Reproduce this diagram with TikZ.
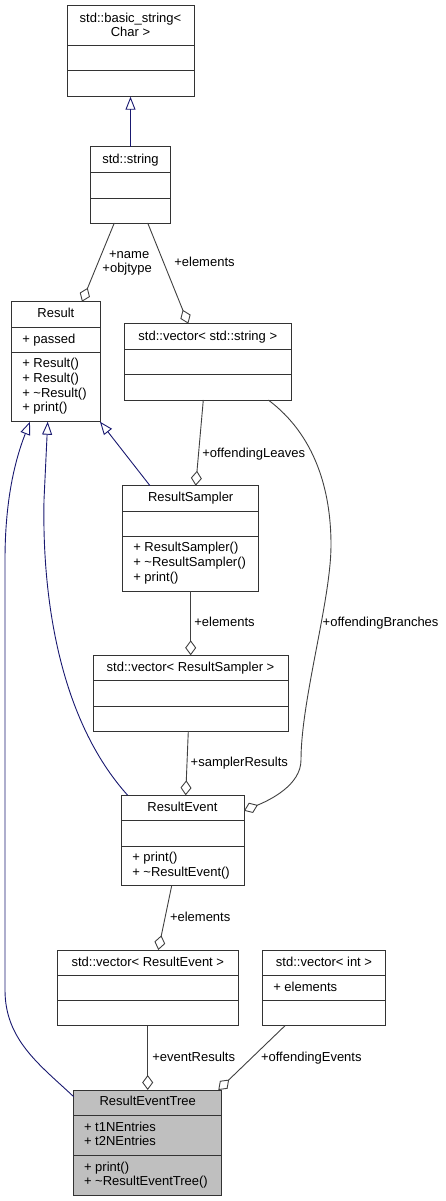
\documentclass[tikz,border=0pt]{standalone}
\usepackage{fontspec}
\setmainfont{Liberation Sans}
\usetikzlibrary{arrows.meta}
\definecolor{edgegray}{HTML}{404040}
\definecolor{inhblue}{HTML}{191970}
\definecolor{treegray}{HTML}{BFBFBF}

\begin{document}
\begin{tikzpicture}[x=1pt,y=-1pt]
            \tikzstyle{every node}+=[inner sep=0pt, outer sep=0pt, font=\fontsize{13}{14.7}\selectfont]
            \tikzstyle{classbox}=[draw=black!80, line width=1pt, anchor=north west]
            \tikzstyle{sep}=[draw=black!80, line width=1pt]
            \tikzstyle{title}=[anchor=base]
            \tikzstyle{member}=[anchor=base west]
            \tikzstyle{role}=[anchor=base west]
            \tikzstyle{agg}=[draw=edgegray, line width=0.9pt, -{Diamond[open,length=15pt,width=11pt]}]
            \tikzstyle{inh}=[draw=inhblue, line width=0.9pt, -{Triangle[open,length=13pt,width=10pt]}]
            \useasboundingbox (0,0) rectangle (445,1201);
            \node [classbox, minimum width=127pt, minimum height=91pt] (bs) at (67,5.7) {};
            \draw [sep] (67,45.7) -- (194,45.7);
            \draw [sep] (67,71) -- (194,71);
            \node [title] at (130.5,22.5) {std::basic\_string<};
            \node [title] at (130.5,36.8) {Char >};
            \node [classbox, minimum width=80.4pt, minimum height=76.3pt] (str) at (90.3,146.7) {};
            \draw [sep] (90.3,172.7) -- (170.7,172.7);
            \draw [sep] (90.3,198.3) -- (170.7,198.3);
            \node [title] at (130.5,163.3) {std::string};
            \node [classbox, minimum width=88.3pt, minimum height=120pt] (res) at (11.7,301.7) {};
            \draw [sep] (11.7,327.3) -- (100,327.3);
            \draw [sep] (11.7,352.3) -- (100,352.3);
            \node [title] at (55.85,317.8) {Result};
            \node [member] at (22.3,343.2) {+ passed};
            \node [member] at (22.3,367.8) {+ Result()};
            \node [member] at (22.3,382.5) {+ Result()};
            \node [member] at (22.3,397.2) {+ \textasciitilde Result()};
            \node [member] at (22.3,411.9) {+ print()};
            \node [classbox, minimum width=167pt, minimum height=76.3pt] (vs) at (124.3,323.7) {};
            \draw [sep] (124.3,349.7) -- (291.3,349.7);
            \draw [sep] (124.3,374.7) -- (291.3,374.7);
            \node [title] at (207.8,340.2) {std::vector< std::string >};
            \node [classbox, minimum width=136pt, minimum height=105.3pt] (rs) at (122.7,485.7) {};
            \draw [sep] (122.7,511) -- (258.7,511);
            \draw [sep] (122.7,536.7) -- (258.7,536.7);
            \node [title] at (190.7,501.8) {ResultSampler};
            \node [member] at (133.3,551.8) {+ ResultSampler()};
            \node [member] at (133.3,566.5) {+ \textasciitilde ResultSampler()};
            \node [member] at (133.3,581.2) {+ print()};
            \node [classbox, minimum width=195pt, minimum height=75.7pt] (vrs) at (93,655.3) {};
            \draw [sep] (93,680.3) -- (288,680.3);
            \draw [sep] (93,706) -- (288,706);
            \node [title] at (190.5,671.2) {std::vector< ResultSampler >};
            \node [classbox, minimum width=123pt, minimum height=90.4pt] (re) at (121,795.3) {};
            \draw [sep] (121,820.3) -- (244,820.3);
            \draw [sep] (121,846) -- (244,846);
            \node [title] at (182.5,811.2) {ResultEvent};
            \node [member] at (132.3,861.8) {+ print()};
            \node [member] at (132.3,876.3) {+ \textasciitilde ResultEvent()};
            \node [classbox, minimum width=180.3pt, minimum height=75.7pt] (vre) at (57.7,950) {};
            \draw [sep] (57.7,975.3) -- (238,975.3);
            \draw [sep] (57.7,1000.3) -- (238,1000.3);
            \node [title] at (147.85,966.2) {std::vector< ResultEvent >};
            \node [classbox, minimum width=122.6pt, minimum height=75.7pt] (vi) at (262.7,950) {};
            \draw [sep] (262.7,975.3) -- (385.3,975.3);
            \draw [sep] (262.7,1000.3) -- (385.3,1000.3);
            \node [title] at (324,966.2) {std::vector< int >};
            \node [member] at (273.3,991.2) {+ elements};
            \node [classbox, fill=treegray, minimum width=148pt, minimum height=105pt] (ret) at (73.7,1090) {};
            \draw [sep] (73.7,1115.3) -- (221.7,1115.3);
            \draw [sep] (73.7,1155.7) -- (221.7,1155.7);
            \node [title] at (147.7,1105.8) {ResultEventTree};
            \node [member] at (84,1131.2) {+ t1NEntries};
            \node [member] at (84,1145.9) {+ t2NEntries};
            \node [member] at (84,1171.2) {+ print()};
            \node [member] at (84,1185.9) {+ \textasciitilde ResultEventTree()};
            \draw [inh] (str.north) -- (bs.south);
            \draw [agg] ([xshift=24pt]str.south west) -- ([xshift=70.3pt]res.north west);
            \node [title] at (129.2,258.5) {+name};
            \node [title] at (127.2,272.8) {+objtype};
            \draw [agg] ([xshift=57.4pt]str.south west) -- ([xshift=64pt]vs.north west);
            \node [role] at (174.3,266.2) {+elements};
            \draw [agg] ([xshift=79pt]vs.south west) -- ([xshift=73pt]rs.north west);
            \node [role] at (202.3,457.2) {+offendingLeaves};
            \draw [agg] ([xshift=144pt]vs.south west) .. controls (315,435) and (331,490) .. (331,545) .. controls (331,600) and (301,700) .. (301,760) .. controls (301,785) and (270,800) .. ([yshift=-15.4pt]re.north east);
            \node [role] at (322.7,626.2) {+offendingBranches};
            \draw [inh] ([xshift=27.3pt]rs.north west) -- (res.south east);
            \draw [agg] ([xshift=68pt]rs.south west) -- ([xshift=97.7pt]vrs.north west);
            \node [role] at (194.3,626.2) {+elements};
            \draw [agg] ([xshift=95.3pt]vrs.south west) -- ([xshift=64.7pt]re.north west);
            \node [role] at (190.7,766.2) {+samplerResults};
            \draw [inh] ([xshift=6.7pt]re.north west) .. controls (60,720) and (42,600) .. (44,500) -- ([xshift=36pt]res.south west);
            \draw [agg] ([xshift=50.7pt]re.south west) -- ([xshift=100.6pt]vre.north west);
            \node [role] at (170,921.2) {+elements};
            \draw [agg] ([xshift=90pt]vre.south west) -- ([xshift=74pt]ret.north west);
            \node [role] at (152.3,1061.2) {+eventResults};
            \draw [agg] ([xshift=22.3pt]vi.south west) -- ([xshift=144.6pt]ret.north west);
            \node [role] at (261,1061.2) {+offendingEvents};
            \draw [inh] ([yshift=-6.7pt]ret.north west) .. controls (40,1065) and (5,1040) .. (5,990) -- (5,560) .. controls (5,500) and (15,460) .. ([xshift=18.3pt]res.south west);
            \end{tikzpicture}
\end{document}
